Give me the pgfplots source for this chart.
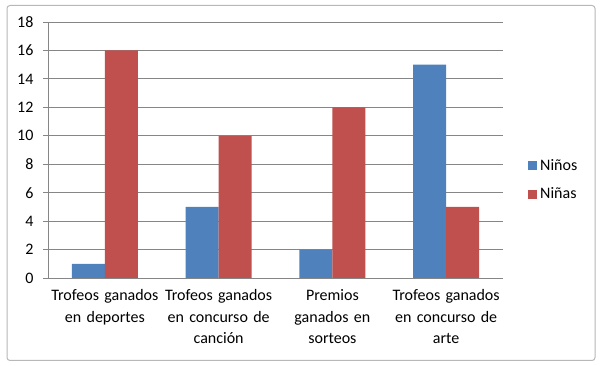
\documentclass[border=0pt]{standalone}
\usepackage{pgfplots}
\pgfplotsset{compat=1.18}
\usepackage{fontspec}
\setmainfont{Carlito}
\definecolor{xblue}{HTML}{4F81BD}
\definecolor{xred}{HTML}{C0504D}
\definecolor{xgrid}{HTML}{868686}
\begin{document}
\begin{tikzpicture}[x=1pt,y=1pt]
\path[use as bounding box, fill=white] (0,0) rectangle (600,366);
\draw[color=black!28, rounded corners=3pt, line width=1pt] (7,5.5) rectangle (595,360.5);
\begin{axis}[
  at={(48pt,88pt)}, anchor=south west,
  scale only axis, width=455pt, height=256pt,
  ybar=0pt, bar width=0.29,
  xmin=-0.5, xmax=3.5, ymin=0, ymax=18,
  ytick={0,2,...,18},
  xtick={0,1,2,3},
  xticklabels={{Trofeos ganados\\en deportes},{Trofeos ganados\\en concurso de\\canción},{Premios\\ganados en\\sorteos},{Trofeos ganados\\en concurso de\\arte}},
  x tick label style={align=center, text width=114pt, font=\fontsize{16}{21.5}\selectfont, anchor=north, yshift=-3pt},
  y tick label style={font=\fontsize{16}{18}\selectfont, xshift=-6pt},
  /pgf/number format/assume math mode=true,
  major x tick style={draw=none},
  extra x ticks={-0.5,0.5,1.5,2.5,3.5},
  extra x tick labels={},
  extra x tick style={major tick style={draw=xgrid, line width=0.8pt}, major tick length=5pt, tick align=outside, grid=none},
  axis x line*=bottom, axis y line*=left,
  axis line style={draw=xgrid, line width=0.8pt, -},
  ymajorgrids, grid style={draw=xgrid, line width=0.8pt},
  tick align=outside, major tick length=5pt,
  ytick style={draw=xgrid, line width=0.8pt},
  legend style={draw=none, fill=none, at={(1.055,0.383)}, anchor=west, font=\fontsize{16}{18}\selectfont, row sep=12pt, inner sep=0pt, nodes={inner xsep=3pt}},
  legend cell align=left,
  legend image code/.code={\fill[#1] (0pt,-4.5pt) rectangle (9pt,4.5pt);},
  clip=false,
]
\addplot[fill=xblue, draw=none] coordinates {(0,1) (1,5) (2,2) (3,15)};
\addplot[fill=xred, draw=none] coordinates {(0,16) (1,10) (2,12) (3,5)};
\legend{Niños, Niñas}
\end{axis}
\end{tikzpicture}
\end{document}
